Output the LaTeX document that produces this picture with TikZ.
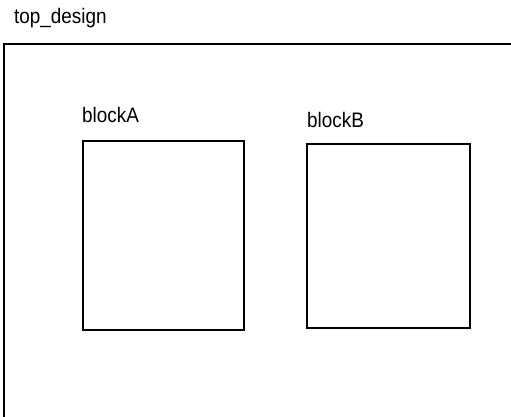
\documentclass[tikz,border=0pt]{standalone}
\usepackage{fontspec}
\newfontfamily\lblfont[FakeStretch=0.9]{Liberation Sans}

\begin{document}
\begin{tikzpicture}[
	x=1pt, y=-1pt,
	frame/.style={ draw, line width=1.6pt },
	block/.style={ draw, line width=1.6pt, inner sep=0pt },
	lbl/.style={ anchor=base west, inner sep=0pt, font=\lblfont\fontsize{21}{24}\selectfont }
]
\useasboundingbox (0,0) rectangle (511,417);

\node at (14,24) (ttop) [lbl] {top\_design};
\coordinate (tl) at (4,44);
\coordinate (tr) at (530,44);
\coordinate (bl) at (4,430);
\draw[frame] (tr) -- (tl) -- (bl);

\node at (163.5,235.5) (blka) [block, minimum width=161pt, minimum height=189pt] {};
\node at (82,123) (ta) [lbl] {blockA};

\node at (388.5,236) (blkb) [block, minimum width=163pt, minimum height=184pt] {};
\node at (307,128) (tb) [lbl] {blockB};

\end{tikzpicture}
\end{document}
